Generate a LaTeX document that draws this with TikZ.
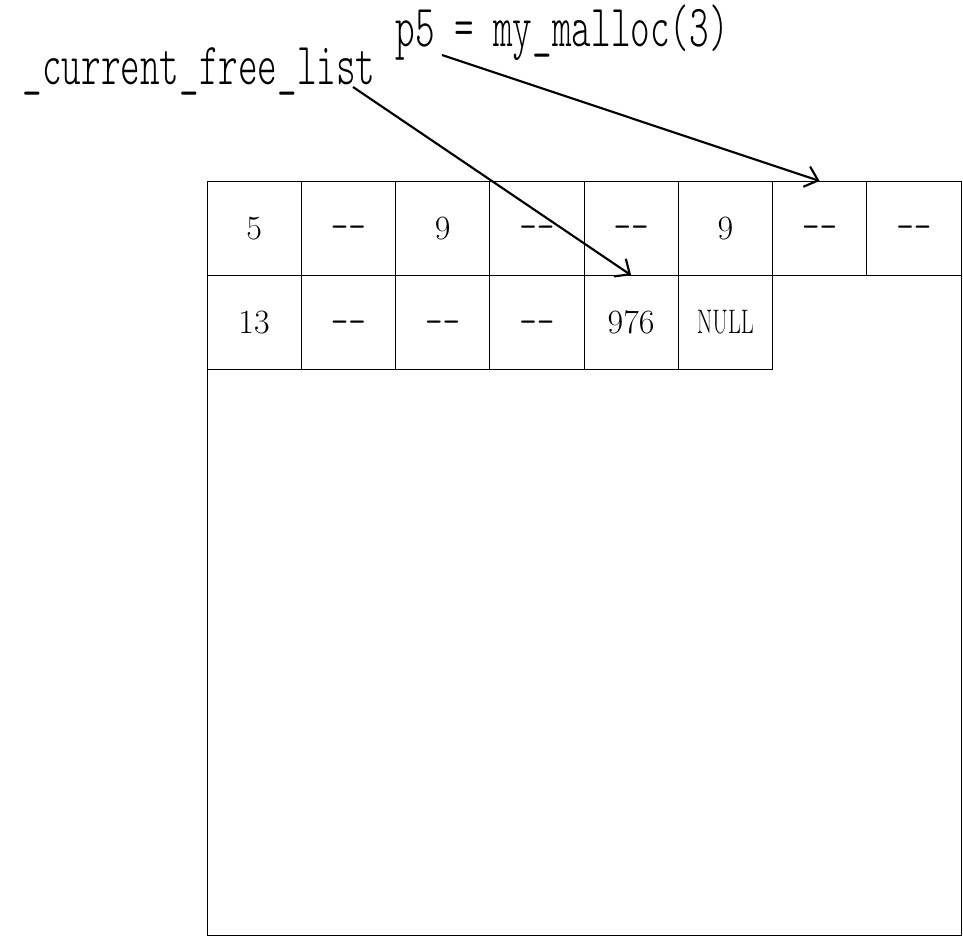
\documentclass[tikz,border=0pt]{standalone}
\usepackage{fontspec}
\usepackage{graphicx}
\usetikzlibrary{arrows.meta,positioning}
\newfontfamily\lightmono{lmmonolt10-regular.otf}
\tikzset{cell/.style={
    draw, line width=0.7pt, minimum size=70.69pt, inner sep=0pt, outer sep=0pt,
    font=\fontsize{25.5}{30}\selectfont},
  ptr/.style={-{Straight Barb[length=9pt,width=16pt]}, line width=1.6pt},
  lbl/.style={inner sep=0pt, anchor=base, font=\lightmono\fontsize{28}{34}\selectfont}
}
\newcommand{\tall}[1]{\scalebox{1}[1.6]{#1}}
\newcommand{\dd}{\texttt{\raisebox{-3pt}[\height][\depth]{-{}-}}}

\begin{document}
\begin{tikzpicture}[x=0.75pt, y=-0.75pt]
        \useasboundingbox (0,0) rectangle (963,937);
        %labels
        \node[lbl](freelist) at (199,85){\tall{\_current\_free\_list}};
        \node[lbl](call) at (562,47){\tall{p5 = my\_malloc(3)}};
        
        %first row
        \node[cell](c11) at (254.1,228.1){5};
        \node[cell, right=0pt of c11](c12){\dd};
        \node[cell, right=0pt of c12](c13){9};
        \node[cell, right=0pt of c13](c14){\dd};
        \node[cell, right=0pt of c14](c15){\dd};
        \node[cell, right=0pt of c15](c16){9};
        \node[cell, right=0pt of c16](c17){\dd};
        \node[cell, right=0pt of c17](c18){\dd};
        
        %second row
        \node[cell, below=0pt of c11](c21){13};
        \node[cell, right=0pt of c21](c22){\dd};
        \node[cell, right=0pt of c22](c23){\dd};
        \node[cell, right=0pt of c23](c24){\dd};
        \node[cell, right=0pt of c24](c25){976};
        \node[cell, right=0pt of c25](c26){\scalebox{0.66}[1]{NULL}};
        
        %whole block
        \draw[line width=0.7pt] (c11.north west) rectangle (c18.north east |- 0,935);
        
        %pointers
        \coordinate (fltail) at (353,87);
        \coordinate (calltail) at (442,55);
        \draw[ptr] (fltail) -- (c25.north);
        \draw[ptr] (calltail) -- (c17.north);
        
\end{tikzpicture}
\end{document}
